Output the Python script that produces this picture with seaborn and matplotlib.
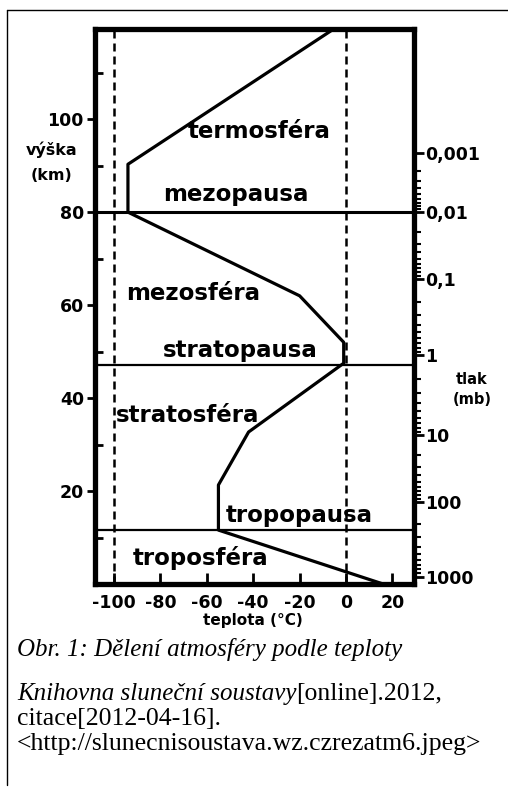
import matplotlib
matplotlib.use('Agg')
import matplotlib.pyplot as plt
import seaborn as sns
import numpy as np
import pandas as pd
from matplotlib.lines import Line2D

# teplotni profil atmosfery
teplota = [16, -55, -55, -42, -1, -1, -20, -94, -94, -5]
vyska = [0, 11.6, 21.3, 32.7, 47.5, 52, 62, 80, 90.3, 119.5]

# hranice vrstev (km)
hranice = [80, 47.1, 11.6]

vrstvy = ['termosféra', 'mezopausa', 'mezosféra', 'stratopausa',
          'stratosféra', 'tropopausa', 'troposféra']
vrstvy_x = [-37.3, -47.4, -66, -45.7, -68.3, -20, -62.9]
vrstvy_y = [95.9, 82.4, 61.1, 48.8, 34.8, 13.3, 4.1]

# tlak (mb) na prave ose a odpovidajici vyska (km)
tlak = [0.001, 0.01, 0.1, 1, 10, 100, 1000]
tlak_labels = ['0,001', '0,01', '0,1', '1', '10', '100', '1000']
tlak_km = [92.8, 80, 65.7, 49.2, 32.0, 17.7, 1.6]

x_ticks = [-100, -80, -60, -40, -20, 0, 20]
y_ticks = [20, 40, 60, 80, 100]
y_minor = [10, 30, 50, 70, 90, 110]

sns.set_style('white')
plt.rcParams['font.family'] = ['DejaVu Sans']
plt.rcParams['text.color'] = 'black'
plt.rcParams['xtick.color'] = 'black'
plt.rcParams['ytick.color'] = 'black'
plt.rcParams['xtick.labelcolor'] = 'black'
plt.rcParams['ytick.labelcolor'] = 'black'

W, H = 508, 791
fig = plt.figure(figsize=(W / 100, H / 100), dpi=100)
ax = fig.add_axes([95 / W, 1 - 584 / H, (414 - 95) / W, (584 - 29) / H])

df = pd.DataFrame({'teplota': teplota, 'vyska': vyska})
sns.lineplot(data=df, x='teplota', y='vyska', sort=False, estimator=None,
             color='black', lw=2.3, ax=ax)

for h, lw in zip(hranice, [2.2, 1.6, 1.6]):
    ax.axhline(h, color='black', lw=lw)
for t in [-100, 0]:
    ax.axvline(t, color='black', lw=1.8, dashes=(3.2, 2))

for name, x, y in zip(vrstvy, vrstvy_x, vrstvy_y):
    ax.text(x, y, name, ha='center', va='baseline', fontsize=16.5,
            fontweight='bold', color='black')

ax.set_xlim(-108.2, 29.3)
ax.set_ylim(0, 119.4)
ax.set(xlabel='', ylabel='')
for s in ax.spines.values():
    s.set_linewidth(3.8)
    s.set_color('black')

ax.set_xticks(x_ticks, labels=[str(v) for v in x_ticks])
ax.set_yticks(y_ticks, labels=[str(v) for v in y_ticks])
ax.set_yticks(y_minor, minor=True)
ax.tick_params(axis='x', bottom=True, direction='in', length=8, width=2, pad=7,
               labelsize=12.5)
ax.tick_params(axis='y', which='major', left=True, direction='out', length=6,
               width=2, pad=2, labelsize=12.5)
ax.tick_params(axis='y', which='minor', left=True, direction='in', length=6, width=2)
for lab in ax.get_xticklabels() + ax.get_yticklabels():
    lab.set_fontweight('bold')

# prava osa - tlak
ax2 = ax.twinx()
ax2.set_ylim(ax.get_ylim())
ax2.set_yticks(tlak_km, labels=tlak_labels)
p_minor = [m * 10.0 ** e for e in range(-3, 3) for m in range(2, 10)]
km_minor = np.interp(np.log10(p_minor), np.log10(tlak), tlak_km)
ax2.set_yticks(km_minor, minor=True)
ax2.tick_params(which='major', right=True, direction='out', length=7, width=2,
                pad=1, labelsize=12.5)
ax2.tick_params(which='minor', right=True, direction='out', length=5, width=1.5)
for lab in ax2.get_yticklabels():
    lab.set_fontweight('bold')
for s in ax2.spines.values():
    s.set_visible(False)

# popisky os
fig.text(52 / W, 1 - 150 / H, 'výška', ha='center', va='center', fontsize=11.5, fontweight='bold')
fig.text(52 / W, 1 - 175 / H, '(km)', ha='center', va='center', fontsize=11.5, fontweight='bold')
fig.text(472 / W, 1 - 379 / H, 'tlak', ha='center', va='center', fontsize=10.5, fontweight='bold')
fig.text(472 / W, 1 - 399 / H, '(mb)', ha='center', va='center', fontsize=10.5, fontweight='bold')
fig.text(253 / W, 1 - 620 / H, 'teplota (°C)', ha='center', va='center', fontsize=11, fontweight='bold')

# ramecek
fig.add_artist(Line2D([7 / W, 1], [1 - 10 / H, 1 - 10 / H], transform=fig.transFigure, color='black', lw=1))
fig.add_artist(Line2D([7 / W, 7 / W], [1 - 10 / H, 1 - 785 / H], transform=fig.transFigure, color='black', lw=1))

# popisek obrazku
serif = 'Liberation Serif'
fs_it = 18
fs = 18.5
fig.text(17 / W, 1 - 656 / H, 'Obr. 1: Dělení atmosféry podle teploty',
         family=serif, style='italic', fontsize=fs_it, va='baseline')
t1 = fig.text(17 / W, 1 - 700 / H, 'Knihovna sluneční soustavy',
              family=serif, style='italic', fontsize=fs_it, va='baseline')
bb = t1.get_window_extent(fig.canvas.get_renderer())
fig.text(bb.x1 / W, 1 - 700 / H, '[online].2012,', family=serif, fontsize=fs, va='baseline')
fig.text(17 / W, 1 - 725 / H, 'citace[2012-04-16].', family=serif, fontsize=fs, va='baseline')
fig.text(17 / W, 1 - 750 / H, '<http://slunecnisoustava.wz.czrezatm6.jpeg>',
         family=serif, fontsize=fs, va='baseline')

fig.savefig('out.png', dpi=100)
